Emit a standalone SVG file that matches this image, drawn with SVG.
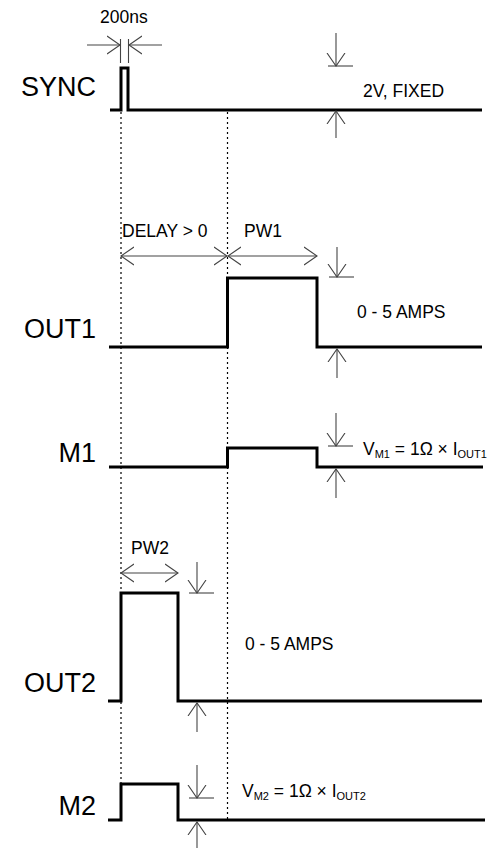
<svg xmlns="http://www.w3.org/2000/svg" width="501" height="849" viewBox="0 0 501 849">
<style>
.sig{fill:none;stroke:#000;stroke-width:3;stroke-linejoin:miter}
.dot{fill:none;stroke:#000;stroke-width:1.2;stroke-dasharray:2,3}
.dim{fill:none;stroke:#444;stroke-width:1.1}
.lbl{font-family:"Liberation Sans",Arial,sans-serif;font-size:27px;fill:#000;text-anchor:end}
.t{font-family:"Liberation Sans",Arial,sans-serif;font-size:17.5px;fill:#000}
.sub{font-size:11px}
</style>
<defs>
<marker id="ah" viewBox="0 0 14 20" refX="13" refY="10" markerWidth="14" markerHeight="20" markerUnits="userSpaceOnUse" orient="auto-start-reverse">
<path d="M0,1 L13,10 L0,19" fill="none" stroke="#444" stroke-width="1.1"/>
</marker>
</defs>
<g id="guides">
<line class="dot" x1="121" y1="112" x2="121" y2="784"/>
<line class="dot" x1="227.5" y1="112" x2="227.5" y2="820"/>
</g>
<g id="sync">
<text class="lbl" x="96" y="96">SYNC</text>
<path class="sig" d="M110,110 H121 V68 H128 V110 H482"/>
</g>
<g id="out1">
<text class="lbl" x="96" y="338">OUT1</text>
<path class="sig" d="M109,347 H227.5 V278 H317 V347 H482"/>
</g>
<g id="m1">
<text class="lbl" x="96" y="462">M1</text>
<path class="sig" d="M109,467 H227.5 V448 H317 V467 H483"/>
</g>
<g id="out2">
<text class="lbl" x="96" y="692">OUT2</text>
<path class="sig" d="M108,701 H121 V593 H178 V701 H482"/>
</g>
<g id="m2">
<text class="lbl" x="96" y="815">M2</text>
<path class="sig" d="M108,820 H121 V784 H178 V820 H485"/>
</g>
<g id="connectors">
<line class="dim" x1="87" y1="45" x2="120" y2="45" marker-end="url(#ah)"/>
<line class="dim" x1="162" y1="45" x2="129" y2="45" marker-end="url(#ah)"/>
<line class="dim" x1="120.5" y1="39" x2="120.5" y2="63"/>
<line class="dim" x1="128.5" y1="39" x2="128.5" y2="63"/>
<line class="dim" x1="336" y1="33" x2="336" y2="66" marker-end="url(#ah)"/>
<line class="dim" x1="328" y1="66" x2="353" y2="66"/>
<line class="dim" x1="336" y1="138" x2="336" y2="111" marker-end="url(#ah)"/>
<line class="dim" x1="121" y1="256" x2="227" y2="256" marker-start="url(#ah)" marker-end="url(#ah)"/>
<line class="dim" x1="228" y1="256" x2="317" y2="256" marker-start="url(#ah)" marker-end="url(#ah)"/>
<line class="dim" x1="337" y1="247" x2="337" y2="277" marker-end="url(#ah)"/>
<line class="dim" x1="329" y1="277" x2="354" y2="277"/>
<line class="dim" x1="337" y1="378" x2="337" y2="349" marker-end="url(#ah)"/>
<line class="dim" x1="336" y1="413" x2="336" y2="446" marker-end="url(#ah)"/>
<line class="dim" x1="328" y1="446" x2="353" y2="446"/>
<line class="dim" x1="336" y1="498" x2="336" y2="469" marker-end="url(#ah)"/>
<line class="dim" x1="121" y1="573" x2="178" y2="573" marker-start="url(#ah)" marker-end="url(#ah)"/>
<line class="dim" x1="197" y1="562" x2="197" y2="593" marker-end="url(#ah)"/>
<line class="dim" x1="189" y1="593" x2="214" y2="593"/>
<line class="dim" x1="197" y1="732" x2="197" y2="703" marker-end="url(#ah)"/>
<line class="dim" x1="197" y1="765" x2="197" y2="798" marker-end="url(#ah)"/>
<line class="dim" x1="189" y1="798" x2="214" y2="798"/>
<line class="dim" x1="197" y1="848" x2="197" y2="822" marker-end="url(#ah)"/>
</g>
<g id="labels">
<text class="t" x="100" y="23">200ns</text>
<text class="t" x="363" y="97">2V, FIXED</text>
<text class="t" x="122" y="237">DELAY &gt; 0</text>
<text class="t" x="244" y="237">PW1</text>
<text class="t" x="357" y="318">0 - 5 AMPS</text>
<text class="t" x="363" y="455">V<tspan class="sub" dy="3">M1</tspan><tspan dy="-3"> = 1Ω × I</tspan><tspan class="sub" dy="3">OUT1</tspan></text>
<text class="t" x="131" y="554">PW2</text>
<text class="t" x="245" y="650">0 - 5 AMPS</text>
<text class="t" x="242" y="797">V<tspan class="sub" dy="3">M2</tspan><tspan dy="-3"> = 1Ω × I</tspan><tspan class="sub" dy="3">OUT2</tspan></text>
</g>
</svg>
